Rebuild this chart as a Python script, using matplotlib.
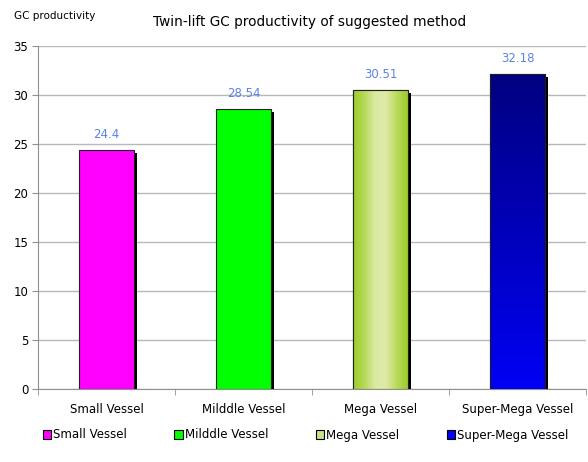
import numpy as np
import matplotlib
matplotlib.use("Agg")
import matplotlib.pyplot as plt
from matplotlib.patches import Rectangle
from matplotlib.colors import LinearSegmentedColormap
import matplotlib.patheffects as pe

# === DATA ===
categories = ["Small Vessel", "Milddle Vessel", "Mega Vessel", "Super-Mega Vessel"]
productivity = [24.4, 28.54, 30.51, 32.18]
value_labels = ["24.4", "28.54", "30.51", "32.18"]
yticks = [0, 5, 10, 15, 20, 25, 30, 35]

base_colors = ["#ff00ff", "#00ff00", "#c8e28a", "#0000ff"]

plt.rcParams["font.family"] = "DejaVu Sans"

fig = plt.figure(figsize=(5.88, 4.62), dpi=100)
ax = fig.add_axes([38 / 588, 73 / 462, 548 / 588, 343 / 462])

x = np.arange(len(categories))
shadow = [pe.SimplePatchShadow(offset=(2.2, -2.2), shadow_rgbFace="black", alpha=1.0), pe.Normal()]
bars = ax.bar(x, productivity, width=0.4, color=base_colors, edgecolor="#202020",
              linewidth=0.8, zorder=3, path_effects=shadow)

# gradient fills for mega / super-mega bars
mega_cmap = LinearSegmentedColormap.from_list(
    "mega", ["#9acb2c", "#b5d957", "#dbe9a2", "#dfeaa6", "#b9da5c", "#99cc2a"])
navy_cmap = LinearSegmentedColormap.from_list("navy", ["#0000f5", "#000080"])

b = bars[2]
grad = np.linspace(0, 1, 256).reshape(1, -1)
im = ax.imshow(grad, cmap=mega_cmap, aspect="auto", zorder=4,
               extent=[b.get_x(), b.get_x() + b.get_width(), 0, b.get_height()])
im.set_clip_path(b)

b = bars[3]
grad = np.linspace(0, 1, 256).reshape(-1, 1)
im = ax.imshow(grad, cmap=navy_cmap, aspect="auto", zorder=4, origin="lower",
               extent=[b.get_x(), b.get_x() + b.get_width(), 0, b.get_height()])
im.set_clip_path(b)

for b in bars[2:]:
    ax.add_patch(Rectangle((b.get_x(), 0), b.get_width(), b.get_height(),
                           fill=False, edgecolor="#202020", linewidth=0.8, zorder=5))

for xi, v, lab in zip(x, productivity, value_labels):
    ax.text(xi, v + 0.9, lab, ha="center", va="bottom", color="#5b82e8", fontsize=8.5, zorder=6)

ax.set_xlim(-0.5, 3.5)
ax.set_ylim(0, 35)
ax.set_yticks(yticks)
ax.set_xticks(x)
ax.set_xticklabels(categories, fontsize=8.5)
ax.set_xticks(np.arange(-0.5, 4.0, 1.0), minor=True)
ax.tick_params(axis="x", which="major", length=0, pad=10)
ax.tick_params(axis="x", which="minor", length=4, color="#909090")
ax.tick_params(axis="y", length=4, color="#909090", labelsize=8.5, pad=3)

ax.grid(axis="y", color="#b8b8b8", linewidth=1.0, zorder=0)
ax.set_axisbelow(True)
for s in ["top", "right"]:
    ax.spines[s].set_visible(False)
for s in ["left", "bottom"]:
    ax.spines[s].set_color("#909090")

fig.text(310 / 588, 1 - 22 / 462, "Twin-lift GC productivity of suggested method",
         ha="center", va="center", fontsize=9.8)
fig.text(14 / 588, 1 - 16 / 462, "GC productivity", ha="left", va="center", fontsize=7.5)

legend_colors = ["#ff00ff", "#00ff00", "#c8e28a", "#0000ff"]
handles = [Rectangle((0, 0), 1, 1, facecolor=c, edgecolor="black", linewidth=0.8)
           for c in legend_colors]
fig.legend(handles, categories, loc="center", bbox_to_anchor=(0.52, 1 - 435 / 462),
           ncol=4, frameon=False, fontsize=8.5, handlelength=0.7, handleheight=0.7,
           handletextpad=0.2, columnspacing=4.0)

fig.savefig("out.png", dpi=100)
